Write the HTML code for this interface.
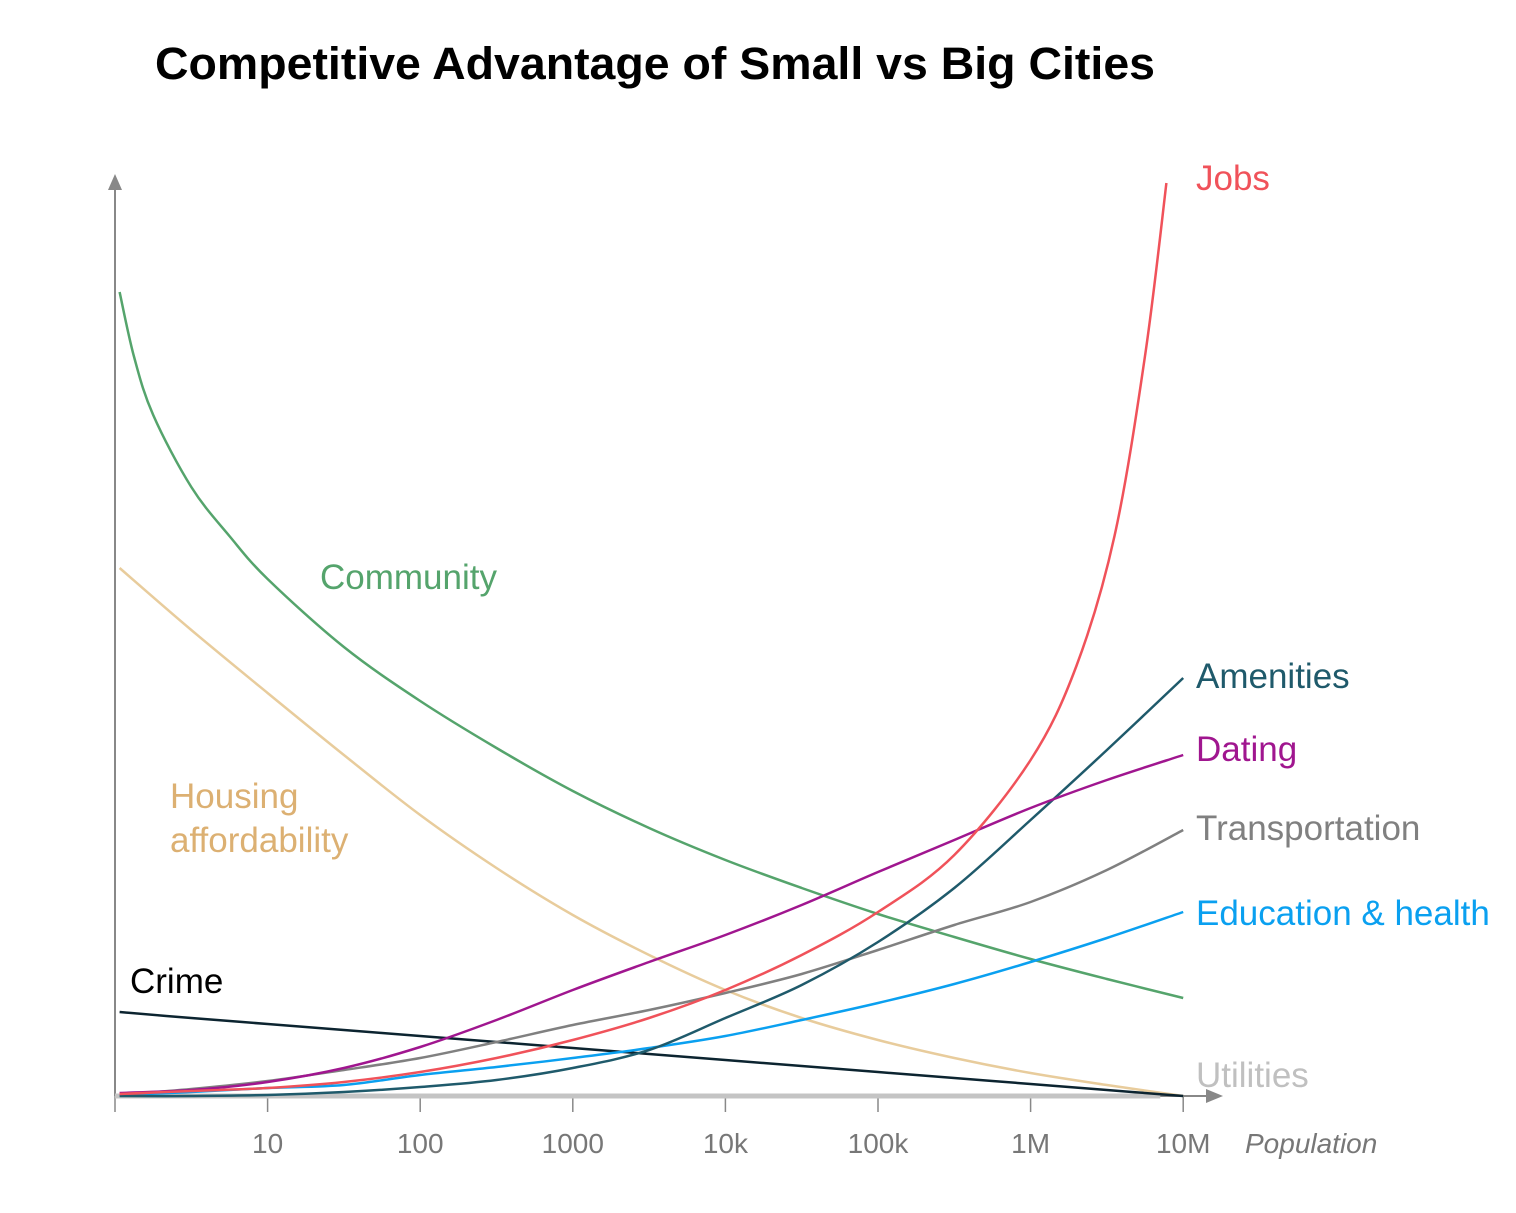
<!DOCTYPE html>
<html><head><meta charset="utf-8">
<style>
body{margin:0;background:#fff;}
svg{display:block;font-family:"Liberation Sans",Arial,sans-serif;}
</style></head>
<body>
<svg id="chart" width="1516" height="1213" viewBox="0 0 1516 1213" xmlns="http://www.w3.org/2000/svg">
<text x="155" y="79" font-size="45" font-weight="bold" fill="#000" textLength="1000" lengthAdjust="spacingAndGlyphs">Competitive Advantage of Small vs Big Cities</text>
<g id="axes"></g>
<g id="series"></g>
<g id="labels"></g>
</svg>
<script>
// log10(population) sample positions
const grid = [0.03,0.5,1,1.5,2,2.5,3,3.5,4,4.5,5,5.5,6,6.5,7];
const tickLabels = ["10","100","1000","10k","100k","1M","10M"];
const tickExps = [1,2,3,4,5,6,7];
// values (height above axis, arbitrary units)
const communityX = [0.03,0.125,0.25,0.5,0.75,1,1.5,2,2.5,3,3.5,4,4.5,5,5.5,6,6.5,7];
const community = [804,739,681,609,560,517,449,395,348,305,268,236,208,182,159,137,117,98];
const housing = [528,466,403,341,281,228,181,141,106,78,56,38,23,11,0];
const crime = [84,78,72,66,60,54,48,42,36,30,24,18,12,6,0];
const dating = [3,6,14,28,49,76,106,134,161,191,224,256,288,316,341];
const transport = [1,7,15,26,38,54,71,86,103,122,146,171,194,226,266];
const education = [1,4,8,11,21,29,38,48,60,76,93,112,134,158,184];
const amenities = [0,0,1,4,9,16,28,46,78,111,154,208,276,346,418];
const jobsX = [0.03,0.5,1,1.5,2,2.5,3,3.5,4,4.5,5,5.5,6,6.3,6.55,6.75,6.89];
const jobs = [2,5,8,14,24,38,56,78,106,141,184,241,336,430,560,740,913];
const utilitiesX = [0,6.85];
const utilities = [0,0];

const X0=115, DEC=152.6, Y0=1096;
const xs = e => X0 + e*DEC;
const ys = v => Y0 - v;
const NS="http://www.w3.org/2000/svg";

function pathFrom(xArr,vArr){
  const p = xArr.map((e,i)=>[xs(e),ys(vArr[i])]);
  let d = "M"+p[0][0].toFixed(1)+","+p[0][1];
  for(let i=0;i<p.length-1;i++){
    const p0=p[Math.max(i-1,0)],p1=p[i],p2=p[i+1],p3=p[Math.min(i+2,p.length-1)];
    const c1=[p1[0]+(p2[0]-p0[0])/6,p1[1]+(p2[1]-p0[1])/6];
    const c2=[p2[0]-(p3[0]-p1[0])/6,p2[1]-(p3[1]-p1[1])/6];
    d+=" C"+c1[0].toFixed(1)+","+c1[1].toFixed(1)+" "+c2[0].toFixed(1)+","+c2[1].toFixed(1)+" "+p2[0].toFixed(1)+","+p2[1].toFixed(1);
  }
  return d;
}
const axes=document.getElementById('axes');
function add(parent,tag,attrs){const el=document.createElementNS(NS,tag);for(const k in attrs)el.setAttribute(k,attrs[k]);parent.appendChild(el);return el;}

const yAxis=add(axes,'line',{x1:X0,y1:Y0,x2:X0,y2:188,stroke:'#888','stroke-width':2});


const yArrow=add(axes,'polygon',{points:`${X0-7},190 ${X0+7},190 ${X0},174`,fill:'#888'});


const xAxis=add(axes,'line',{x1:X0,y1:Y0,x2:1208,y2:Y0,stroke:'#888','stroke-width':2});


const xArrow=add(axes,'polygon',{points:`1206,${Y0-7} 1206,${Y0+7} 1223,${Y0}`,fill:'#888'});


const t0=add(axes,'line',{x1:X0,y1:Y0,x2:X0,y2:Y0+16,stroke:'#888','stroke-width':1.5});


tickExps.forEach((e,i)=>{
  const t=add(axes,'line',{x1:xs(e),y1:Y0,x2:xs(e),y2:Y0+16,stroke:'#888','stroke-width':1.5});
  
  
  const l=add(axes,'text',{x:xs(e),y:1153,'text-anchor':'middle','font-size':28,fill:'#777'});
  l.textContent=tickLabels[i];
  
  
});
const xt=add(axes,'text',{x:1245,y:1153,'font-size':28,'font-style':'italic',fill:'#777'});
xt.textContent='Population';



const series=document.getElementById('series');
const defs=[
  ['utilities-line',utilitiesX,utilities,'#c4c4c4',5],
  ['housing-line',grid,housing,'#e8cc9c',2.5],
  ['community-line',communityX,community,'#55a46c',2.5],
  ['crime-line',grid,crime,'#0c2430',2.5],
  ['education-line',grid,education,'#0aa0f0',2.5],
  ['transportation-line',grid,transport,'#808080',2.5],
  ['amenities-line',grid,amenities,'#1f5a6b',2.5],
  ['dating-line',grid,dating,'#a0168f',2.5],
  ['jobs-line',jobsX,jobs,'#f0525a',2.5]
];
defs.forEach(s=>{
  const p=add(series,'path',{d:pathFrom(s[1],s[2]),fill:'none',stroke:s[3],'stroke-width':s[4]});
  
  
});

const labels=document.getElementById('labels');
const labs=[
  ['jobs-label','Jobs',1196,190,'#f0525a'],
  ['amenities-label','Amenities',1196,688,'#1f5a6b'],
  ['dating-label','Dating',1196,761,'#a0168f'],
  ['transportation-label','Transportation',1196,840,'#808080'],
  ['education-label','Education & health',1196,925,'#0aa0f0'],
  ['utilities-label','Utilities',1196,1087,'#c0c0c0'],
  ['community-label','Community',320,589,'#55a46c'],
  ['housing-label-1','Housing',170,808,'#dcb072'],
  ['housing-label-2','affordability',170,852,'#dcb072'],
  ['crime-label','Crime',130,993,'#000']
];
labs.forEach(a=>{
  const t=add(labels,'text',{x:a[2],y:a[3],'font-size':35,fill:a[4]});
  t.textContent=a[1];
  
  
});
</script>
</body></html>
